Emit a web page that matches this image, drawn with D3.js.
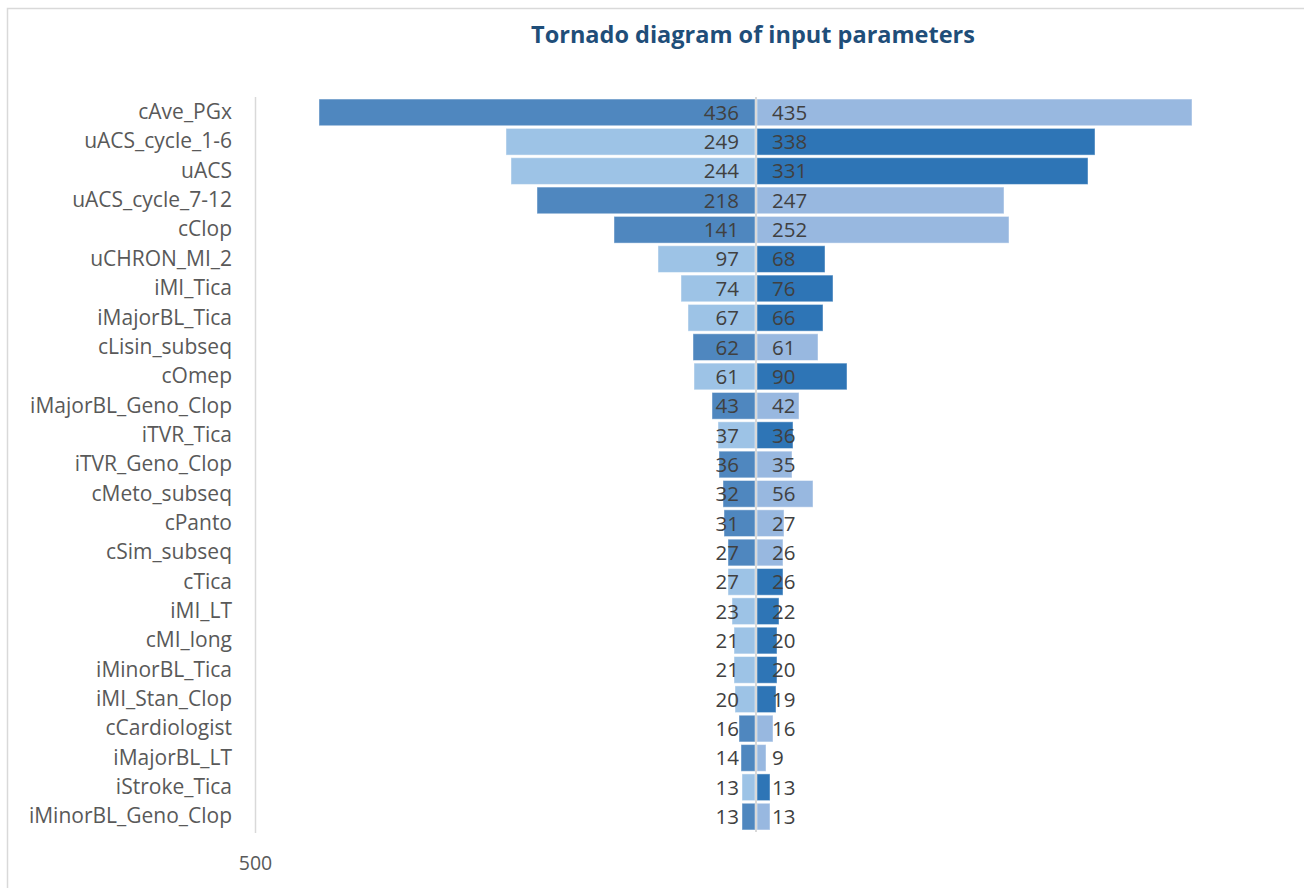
<!DOCTYPE html>
<html>
<head>
<meta charset="utf-8">
<script src="https://cdn.jsdelivr.net/npm/d3@7"></script>
<style>
  html, body { margin: 0; padding: 0; background: #fff; }
  svg { display: block; }
</style>
</head>
<body>
<svg id="chart" width="1304" height="888"></svg>
<script>
// Input parameters, ordered by total swing
const parameters = [
  "cAve_PGx", "uACS_cycle_1-6", "uACS", "uACS_cycle_7-12", "cClop",
  "uCHRON_MI_2", "iMI_Tica", "iMajorBL_Tica", "cLisin_subseq", "cOmep",
  "iMajorBL_Geno_Clop", "iTVR_Tica", "iTVR_Geno_Clop", "cMeto_subseq", "cPanto",
  "cSim_subseq", "cTica", "iMI_LT", "cMI_long", "iMinorBL_Tica",
  "iMI_Stan_Clop", "cCardiologist", "iMajorBL_LT", "iStroke_Tica", "iMinorBL_Geno_Clop"
];
// Swing to the left (low bound) and to the right (high bound)
const lowSwing = [436, 249, 244, 218, 141, 97, 74, 67, 62, 61, 43, 37, 36, 32, 31, 27, 27, 23, 21, 21, 20, 16, 14, 13, 13];
const highSwing = [435, 338, 331, 247, 252, 68, 76, 66, 61, 90, 42, 36, 35, 56, 27, 26, 26, 22, 20, 20, 19, 16, 9, 13, 13];
// Direction of effect: "L" = low bound emphasised, "H" = high bound emphasised
const emphasis = ["L", "H", "H", "L", "L", "H", "H", "H", "L", "H", "L", "H", "L", "L", "L", "L", "H", "H", "H", "H", "H", "L", "L", "H", "L"];
const axisTicks = [-500];

const svg = d3.select("#chart");
const font = "'Open Sans', sans-serif";

// Chart frame
svg.append("rect")
  .attr("x", 7.5).attr("y", 8.5).attr("width", 1310).attr("height", 900)
  .attr("fill", "none").attr("stroke", "#d9d9d9").attr("stroke-width", 1.5);

// Title
svg.append("text")
  .attr("x", 753).attr("y", 43)
  .attr("text-anchor", "middle")
  .attr("font-family", font).attr("font-weight", "bold")
  .attr("font-size", 23.5).attr("fill", "#1f4e79")
  .text("Tornado diagram of input parameters");

const x = d3.scaleLinear().domain([-500, 500]).range([255, 1255]);
const y = d3.scaleBand().domain(parameters).range([96.4, 832.6]).padding(0.09);

const colors = {
  L: { low: "#4f87bf", high: "#98b8e0" },
  H: { low: "#9dc3e6", high: "#2e75b6" }
};
const gap = 2;

const rows = parameters.map((p, i) => ({ p, low: lowSwing[i], high: highSwing[i], e: emphasis[i] }));

// Low-bound bars (left of centre)
svg.append("g").selectAll("rect").data(rows).join("rect")
  .attr("x", d => x(-d.low))
  .attr("y", d => y(d.p))
  .attr("width", d => x(0) - x(-d.low))
  .attr("height", y.bandwidth())
  .attr("fill", d => colors[d.e].low)
  .attr("stroke", "rgba(255,255,255,0.45)").attr("stroke-width", 1);

// High-bound bars (right of centre)
svg.append("g").selectAll("rect").data(rows).join("rect")
  .attr("x", x(0) + gap)
  .attr("y", d => y(d.p))
  .attr("width", d => x(d.high) - x(0))
  .attr("height", y.bandwidth())
  .attr("fill", d => colors[d.e].high)
  .attr("stroke", "rgba(255,255,255,0.45)").attr("stroke-width", 1);

// Centre line
svg.append("line")
  .attr("x1", x(0) + gap / 2).attr("x2", x(0) + gap / 2)
  .attr("y1", 97).attr("y2", 832)
  .attr("stroke", "#d9d9d9").attr("stroke-width", 2);

// Category axis
const yAxis = svg.append("g")
  .attr("transform", `translate(${x(-500)},0)`)
  .call(d3.axisLeft(y).tickSize(0).tickPadding(23));
yAxis.select(".domain").attr("stroke", "#d9d9d9").attr("stroke-width", 1.5);
yAxis.selectAll("text")
  .attr("font-family", font).attr("font-size", 21).attr("fill", "#595959");

// Value axis (only the outer tick is labelled)
const xAxis = svg.append("g")
  .attr("transform", "translate(0,848)")
  .call(d3.axisBottom(x).tickValues(axisTicks).tickFormat(d => Math.abs(d)).tickSize(0).tickPadding(8));
xAxis.select(".domain").remove();
xAxis.selectAll("text")
  .attr("font-family", font).attr("font-size", 19.5).attr("fill", "#595959");

// Value labels
const labelFont = 20.5;
svg.append("g").selectAll("text").data(rows).join("text")
  .attr("x", x(0) - 16)
  .attr("y", d => y(d.p) + y.bandwidth() / 2)
  .attr("dy", "0.36em")
  .attr("text-anchor", "end")
  .attr("font-family", font).attr("font-size", labelFont).attr("fill", "#404040")
  .text(d => d.low);

svg.append("g").selectAll("text").data(rows).join("text")
  .attr("x", x(0) + gap + 15)
  .attr("y", d => y(d.p) + y.bandwidth() / 2)
  .attr("dy", "0.36em")
  .attr("text-anchor", "start")
  .attr("font-family", font).attr("font-size", labelFont).attr("fill", "#404040")
  .text(d => d.high);
</script>
</body>
</html>
